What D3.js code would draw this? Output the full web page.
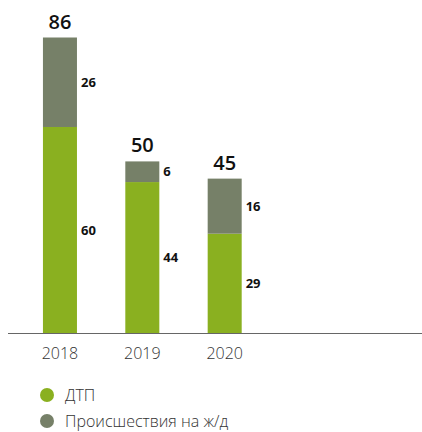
<!DOCTYPE html>
<html>
<head>
<meta charset="utf-8">
<script src="https://cdn.jsdelivr.net/npm/d3@7"></script>
<style>
  body { margin: 0; background: #fff; }
  text { font-family: "Open Sans", "Noto Sans", sans-serif; }
</style>
</head>
<body>
<div id="chart"></div>
<script>
// Data
var years = ["2018", "2019", "2020", ""];
var dtp = [60, 44, 29, 0];
var rail = [26, 6, 16, 0];
var totals = [86, 50, 45, null];
var seriesNames = ["ДТП", "Происшествия на ж/д"];
var colors = ["#8ab020", "#768068"];

var svgWidth = 422;
var svgHeight = 432;

var svg = d3.select("#chart")
    .append("svg")
    .attr("width", svgWidth)
    .attr("height", svgHeight);

var baseY = 333.5;
var x = d3.scaleBand()
    .domain(d3.range(years.length))
    .range([10, 357])
    .paddingInner(0.587)
    .paddingOuter(0.4);

var y = d3.scaleLinear()
    .domain([0, 86])
    .range([baseY, 37.5]);

var data = years.map(function(yr, i) {
    return { i: i, year: yr, dtp: dtp[i], rail: rail[i], total: totals[i] };
});

var stack = d3.stack().keys(["dtp", "rail"])(data);

svg.append("g").selectAll("g")
    .data(stack)
    .enter()
    .append("g")
    .attr("fill", function(d, k) { return colors[k]; })
    .selectAll("rect")
    .data(function(d) { return d; })
    .enter()
    .append("rect")
    .attr("x", function(d) { return x(d.data.i); })
    .attr("y", function(d) { return y(d[1]); })
    .attr("width", x.bandwidth())
    .attr("height", function(d) { return y(d[0]) - y(d[1]); });

// segment labels
stack.forEach(function(layer) {
    svg.append("g").selectAll("text")
        .data(layer.filter(function(d) { return d[1] - d[0] > 0; }))
        .enter()
        .append("text")
        .attr("x", function(d) { return x(d.data.i) + x.bandwidth() + 4; })
        .attr("y", function(d) { return (y(d[0]) + y(d[1])) / 2; })
        .attr("dy", "0.35em")
        .attr("font-size", 13)
        .attr("font-weight", "bold")
        .attr("fill", "#111")
        .text(function(d) { return d[1] - d[0]; });
});

// totals
svg.append("g").selectAll("text")
    .data(data.filter(function(d) { return d.total != null; }))
    .enter()
    .append("text")
    .attr("x", function(d) { return x(d.i) + x.bandwidth() / 2; })
    .attr("y", function(d) { return y(d.total) - 9; })
    .attr("text-anchor", "middle")
    .attr("font-size", 20)
    .attr("font-weight", 600)
    .attr("fill", "#111")
    .text(function(d) { return d.total; });

// axis
var xAxis = d3.axisBottom(x)
    .tickSize(0)
    .tickPadding(14)
    .tickFormat(function(i) { return years[i]; });

var axisG = svg.append("g")
    .attr("transform", "translate(0," + baseY + ")")
    .call(xAxis);
axisG.select(".domain")
    .attr("d", "M8,0H422")
    .attr("stroke", "#666")
    .attr("stroke-width", 1.2);
axisG.selectAll("text")
    .attr("font-size", 16)
    .attr("font-weight", 300)
    .attr("fill", "#333");

// legend
var legend = svg.append("g").selectAll("g")
    .data(seriesNames)
    .enter()
    .append("g")
    .attr("transform", function(d, k) { return "translate(47," + (395 + k * 26) + ")"; });
legend.append("circle")
    .attr("r", 7)
    .attr("fill", function(d, k) { return colors[k]; });
legend.append("text")
    .attr("x", 18)
    .attr("dy", "0.35em")
    .attr("font-size", 16)
    .attr("font-weight", 300)
    .attr("fill", "#333")
    .text(function(d) { return d; });
</script>
</body>
</html>
